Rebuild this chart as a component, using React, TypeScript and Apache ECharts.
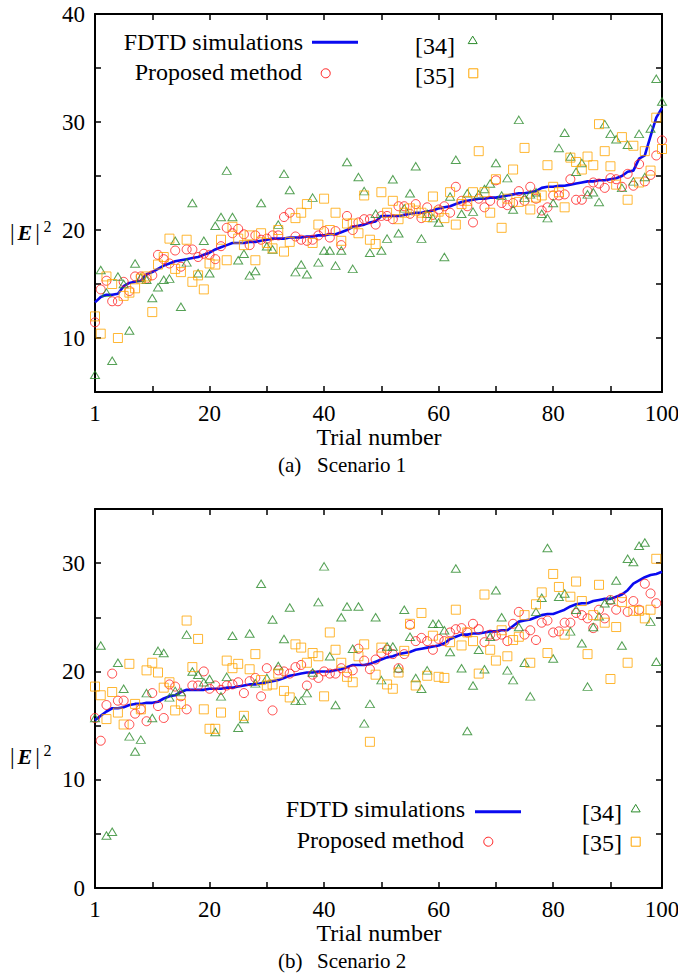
import React, { useEffect, useRef } from "react";
import * as echarts from "echarts";

// ---------- Data (trial index 0..99 maps to trials 1..100) ----------
const xTickLabels: Record<number, string> = { 0: "1", 20: "20", 40: "40", 60: "60", 80: "80", 99: "100" };

// Scenario 1
const s1Fdtd = [
  13.3, 13.8, 14.0, 14.0, 14.1, 14.8, 15.1, 15.2, 15.3, 15.9,
  16.1, 16.4, 16.7, 16.9, 17.1, 17.2, 17.3, 17.4, 17.5, 17.7,
  17.9, 18.2, 18.4, 18.6, 18.8, 18.8, 18.8, 18.9, 18.9, 19.0,
  19.1, 19.2, 19.2, 19.2, 19.3, 19.3, 19.3, 19.4, 19.4, 19.5,
  19.5, 19.6, 19.6, 19.8, 20.0, 20.3, 20.4, 20.5, 20.7, 20.8,
  21.3, 21.3, 21.3, 21.3, 21.4, 21.5, 21.6, 21.6, 21.7, 21.8,
  22.0, 22.1, 22.2, 22.4, 22.6, 22.7, 22.8, 22.9, 22.9, 23.0,
  23.0, 23.1, 23.2, 23.3, 23.4, 23.4, 23.5, 23.6, 23.9, 24.0,
  24.0, 24.1, 24.1, 24.2, 24.3, 24.4, 24.5, 24.5, 24.6, 24.6,
  24.7, 24.8, 25.0, 25.4, 25.5, 26.6, 26.9, 28.7, 30.4, 31.3,
];
const s1Proposed = [
  11.45, 14.5, 15.3, 13.4, 13.4, 15.2, 14.35, 15.7, 15.7, 15.5,
  15.8, 17.7, 17.3, 16.9, 18.1, 16.6, 18.2, 18.2, 17.5, 17.8,
  17.7, 17.3, 18.5, 20.2, 19.7, 20.1, 19.6, 18.6, 19.5, 19.1,
  19.2, 19.5, 19.5, 21.2, 21.6, 19.4, 19.1, 19.0, 19.1, 19.5,
  19.9, 19.3, 19.9, 18.6, 21.3, 20.0, 20.7, 21.0, 21.0, 20.5,
  21.3, 21.3, 21.0, 22.2, 22.2, 21.5, 22.4, 21.1, 22.1, 21.4,
  21.9, 22.2, 21.6, 24.0, 22.7, 22.2, 20.7, 22.9, 22.1, 22.7,
  24.6, 22.5, 22.3, 22.5, 23.6, 22.7, 24.0, 22.9, 21.8, 22.1,
  23.2, 23.2, 23.3, 24.7, 22.8, 22.8, 23.6, 24.4, 24.3, 23.9,
  24.8, 24.7, 24.0, 25.2, 24.1, 26.1, 24.5, 25.1, 26.9, 28.3,
];
const s1Ref34 = [
  6.6, 16.3, 14.2, 7.9, 15.7, 15.0, 10.7, 16.9, 15.6, 15.4,
  13.7, 14.7, 15.4, 15.5, 19.0, 12.9, 17.0, 22.5, 16.0, 19.0,
  16.0, 20.4, 21.2, 25.5, 21.2, 17.2, 17.8, 15.8, 16.2, 22.5,
  18.5, 18.2, 20.5, 25.2, 23.7, 16.1, 16.8, 15.9, 23.0, 17.0,
  18.1, 18.1, 16.7, 18.1, 26.3, 16.4, 24.9, 23.6, 17.9, 21.5,
  18.1, 19.2, 24.7, 19.7, 22.0, 23.4, 25.9, 19.2, 21.5, 21.1,
  20.7, 17.5, 23.1, 26.5, 21.5, 23.4, 21.7, 23.3, 23.8, 24.3,
  26.2, 23.2, 24.8, 21.9, 30.2, 23.0, 23.3, 23.5, 21.5, 21.1,
  22.5, 27.6, 29.0, 26.8, 25.4, 26.2, 23.3, 23.5, 22.6, 29.8,
  28.9, 28.4, 23.9, 27.9, 24.5, 28.9, 24.9, 29.4, 34.0, 31.9,
];
const s1Ref35 = [
  12.0, 10.4, 15.7, 15.0, 10.0, 13.9, 14.2, 14.6, 15.5, 15.7,
  12.4, 16.8, 17.5, 19.2, 16.4, 16.1, 19.1, 15.2, 15.8, 14.5,
  16.9, 16.8, 19.1, 17.2, 20.3, 19.2, 18.6, 19.5, 17.2, 19.7,
  18.8, 18.3, 20.0, 18.0, 18.9, 21.1, 21.6, 22.4, 18.8, 20.5,
  22.9, 20.0, 21.6, 19.0, 20.6, 20.6, 19.7, 23.2, 19.1, 18.7,
  23.5, 21.6, 22.7, 21.0, 21.6, 22.0, 21.8, 21.6, 21.2, 23.1,
  21.7, 21.1, 23.5, 20.5, 22.4, 22.7, 23.5, 27.3, 23.5, 21.6,
  24.7, 20.2, 22.9, 25.6, 22.6, 27.6, 21.9, 23.0, 23.2, 26.0,
  24.0, 23.5, 22.1, 26.7, 26.3, 25.6, 26.8, 26.0, 29.8, 27.3,
  25.9, 24.2, 28.6, 22.8, 27.8, 24.4, 27.3, 25.5, 30.4, 27.5,
];

// Scenario 2
const s2Fdtd = [
  15.5, 15.9, 16.3, 16.6, 16.6, 16.7, 16.9, 17.0, 17.0, 17.1,
  17.1, 17.2, 17.5, 17.7, 17.8, 18.1, 18.3, 18.3, 18.3, 18.3,
  18.4, 18.4, 18.4, 18.5, 18.5, 18.6, 18.7, 18.8, 18.8, 18.9,
  19.0, 19.1, 19.2, 19.4, 19.6, 19.7, 19.8, 19.9, 19.9, 20.0,
  20.0, 20.0, 20.1, 20.2, 20.4, 20.6, 20.6, 20.6, 20.7, 20.9,
  21.1, 21.3, 21.4, 21.6, 21.7, 21.8, 22.0, 22.1, 22.2, 22.3,
  22.4, 22.6, 23.0, 23.2, 23.4, 23.4, 23.5, 23.5, 23.6, 23.7,
  23.7, 23.8, 23.8, 24.2, 24.6, 24.7, 24.8, 25.0, 25.2, 25.3,
  25.3, 25.5, 25.7, 26.0, 26.2, 26.3, 26.3, 26.5, 26.6, 26.7,
  26.7, 26.9, 27.1, 27.5, 28.1, 28.4, 28.7, 28.9, 29.0, 29.2,
];
const s2Proposed = [
  15.7, 13.6, 16.9, 19.8, 17.3, 17.3, 15.1, 16.1, 16.5, 15.4,
  18.0, 16.8, 15.7, 18.8, 18.6, 17.7, 16.5, 18.7, 18.7, 20.0,
  18.4, 18.7, 18.3, 18.7, 18.8, 19.0, 18.0, 19.1, 19.4, 17.7,
  20.3, 16.4, 20.1, 20.0, 19.8, 20.4, 20.6, 18.7, 19.7, 19.4,
  20.0, 19.8, 19.8, 20.3, 19.9, 20.1, 22.1, 21.0, 20.2, 21.1,
  21.7, 22.0, 21.6, 20.3, 21.6, 24.3, 22.8, 23.1, 22.8, 22.0,
  23.0, 22.8, 23.6, 23.9, 24.0, 23.6, 24.4, 23.9, 22.7, 23.4,
  23.3, 23.4, 22.8, 24.4, 25.5, 23.4, 23.8, 22.9, 24.5, 24.7,
  23.6, 23.7, 24.5, 24.5, 25.4, 25.2, 24.9, 24.0, 25.7, 24.9,
  26.6, 25.7, 26.8, 25.5, 26.5, 25.7, 28.1, 27.2, 26.3,
];
const s2Ref34 = [
  15.7, 22.4, 4.85, 5.2, 20.8, 18.4, 14.0, 12.6, 13.7, 18.0,
  15.7, 21.9, 21.7, 17.6, 18.2, 18.1, 23.4, 20.0, 19.7, 19.0,
  19.3, 14.4, 17.7, 19.5, 23.3, 14.8, 15.6, 23.5, 18.9, 28.1,
  19.4, 24.8, 20.5, 23.0, 25.9, 17.3, 17.3, 18.0, 19.9, 26.4,
  29.7, 21.4, 16.9, 25.0, 26.0, 22.1, 26.0, 15.2, 17.0, 25.0,
  19.2, 22.3, 22.3, 20.3, 25.7, 23.2, 19.4, 18.4, 20.1, 24.4,
  24.4, 23.8, 21.8, 29.5, 20.3, 14.5, 18.7, 22.0, 20.2, 23.2,
  27.5, 25.0, 20.1, 19.2, 24.1, 20.8, 17.7, 25.5, 26.8, 31.4,
  21.2, 26.9, 27.2, 23.7, 25.7, 22.6, 18.6, 24.1, 25.1, 26.3,
  26.6, 28.4, 22.4, 30.4, 30.1, 31.6, 31.9, 24.6, 20.9,
];
const s2Ref35 = [
  18.6, 17.8, 15.6, 18.1, 16.2, 15.1, 20.7, 17.0, 16.5, 20.1,
  20.8, 19.9, 18.5, 19.0, 16.4, 17.0, 24.7, 20.4, 23.0, 16.5,
  14.7, 14.7, 16.2, 21.0, 20.3, 20.7, 15.9, 20.2, 21.6, 19.2,
  18.7, 18.8, 19.8, 18.2, 17.6, 22.5, 22.2, 20.8, 21.7, 21.4,
  17.7, 23.6, 22.0, 20.8, 19.5, 19.0, 21.4, 22.5, 13.5, 19.7,
  22.2, 18.8, 18.4, 19.9, 21.9, 24.4, 18.7, 25.4, 19.6, 23.3,
  19.5, 19.4, 22.7, 25.7, 22.4, 23.6, 22.8, 19.8, 27.1, 22.0,
  21.0, 23.8, 21.4, 22.9, 23.2, 25.2, 20.8, 26.2, 27.3, 21.7,
  29.0, 27.8, 23.4, 26.9, 28.3, 26.5, 21.6, 25.2, 28.0, 24.5,
  19.3, 24.1, 26.4, 20.8, 25.6, 25.6, 24.9, 25.7, 30.4,
];

const seriesNames = ["FDTD simulations", "Proposed method", "[34]", "[35]"];
const captions = [["(a)", "Scenario 1"], ["(b)", "Scenario 2"]];
const yRanges = [[5, 40], [0, 35]];

// ---------- Styling ----------
const FONT = '"Liberation Serif", "Times New Roman", Times, serif';
const BLUE = "#0a0af0";
const RED = "#ff1a1a";
const GREEN = "#2a8a2a";
const ORANGE = "#ffa500";

const GRID_LEFT = 95;
const GRID_W = 567;
const GRID_TOPS = [14, 509];
const GRID_H = [378, 379];

function pairs(arr: number[]) {
  return arr.map((v, i) => [i, v]);
}

function App() {
  const ref = useRef<HTMLDivElement>(null);

  useEffect(() => {
    if (!ref.current) return;
    const chart = echarts.init(ref.current, null, { renderer: "svg" });

    const axisLine = { show: true, onZero: false, lineStyle: { color: "#000", width: 2 } };
    const axisTick = { show: true, inside: true, length: 6, lineStyle: { color: "#000", width: 1.5 } };

    const xAxes: any[] = [];
    const yAxes: any[] = [];
    [0, 1].forEach((g) => {
      xAxes.push({
        type: "value", gridIndex: g, min: 0, max: 99, interval: 10, position: "bottom",
        axisLine, axisTick, splitLine: { show: false },
        axisLabel: {
          show: true, margin: 10, color: "#000", fontFamily: FONT, fontSize: 23,
          showMinLabel: true, showMaxLabel: true, hideOverlap: false,
          formatter: (v: number) => xTickLabels[Math.round(v)] ?? "",
        },
      });
      xAxes.push({
        type: "value", gridIndex: g, min: 0, max: 99, interval: 10, position: "top",
        axisLine, axisTick, splitLine: { show: false }, axisLabel: { show: false },
      });
      yAxes.push({
        type: "value", gridIndex: g, min: yRanges[g][0], max: yRanges[g][1], interval: 5, position: "left",
        axisLine, axisTick, splitLine: { show: false },
        axisLabel: {
          show: true, margin: 10, color: "#000", fontFamily: FONT, fontSize: 23,
          showMinLabel: true, showMaxLabel: true,
          formatter: (v: number) => (v % 10 === 0 ? String(v) : ""),
        },
      });
      yAxes.push({
        type: "value", gridIndex: g, min: yRanges[g][0], max: yRanges[g][1], interval: 5, position: "right",
        axisLine, axisTick, splitLine: { show: false }, axisLabel: { show: false },
      });
    });

    const dataSets = [
      [s1Fdtd, s1Proposed, s1Ref34, s1Ref35],
      [s2Fdtd, s2Proposed, s2Ref34, s2Ref35],
    ];
    const series: any[] = [];
    dataSets.forEach((ds, g) => {
      const xi = g * 2;
      const yi = g * 2;
      series.push({
        name: seriesNames[0], type: "line", xAxisIndex: xi, yAxisIndex: yi, data: pairs(ds[0]),
        showSymbol: false, symbol: "none", lineStyle: { color: BLUE, width: 2.6 }, z: 2, silent: true,
      });
      series.push({
        name: seriesNames[1], type: "scatter", xAxisIndex: xi, yAxisIndex: yi, data: pairs(ds[1]),
        symbol: "circle", symbolSize: 9, z: 3, silent: true,
        itemStyle: { color: "rgba(0,0,0,0)", borderColor: RED, borderWidth: 1 },
      });
      series.push({
        name: seriesNames[2], type: "scatter", xAxisIndex: xi, yAxisIndex: yi, data: pairs(ds[2]),
        symbol: "triangle", symbolSize: [9, 7.5], z: 4, silent: true,
        itemStyle: { color: "rgba(0,0,0,0)", borderColor: GREEN, borderWidth: 1 },
      });
      series.push({
        name: seriesNames[3], type: "scatter", xAxisIndex: xi, yAxisIndex: yi, data: pairs(ds[3]),
        symbol: "rect", symbolSize: 9, z: 5, silent: true,
        itemStyle: { color: "rgba(0,0,0,0)", borderColor: ORANGE, borderWidth: 1 },
      });
    });

    const txt = (text: string, x: number, y: number, size: number, align: string, extra: any = {}) => ({
      type: "text", x, y, silent: true,
      style: { text, fill: "#000", font: `${size}px ${FONT}`, textAlign: align, textVerticalAlign: "middle", ...extra },
    });

    const legend = (g: number) => {
      const L = g === 0
        ? { t1x: 303, t1y: 41.5, lx1: 312, lx2: 358, ly: 42.3, t2x: 302, t2y: 72, cx: 325.7, cy: 73.3,
            r1x: 455, r1y: 46, trx: 472.7, try_: 40, r2y: 75.5, sqx: 473.3, sqy: 73.3 }
        : { t1x: 465, t1y: 809, lx1: 475, lx2: 521, ly: 811.7, t2x: 464, t2y: 840, cx: 488.3, cy: 841.7,
            r1x: 622, r1y: 812.5, trx: 635.7, try_: 808.3, r2y: 842.5, sqx: 635.7, sqy: 841.7 };
      return [
        txt(seriesNames[0], L.t1x, L.t1y, 24, "right"),
        { type: "line", silent: true, shape: { x1: L.lx1, y1: L.ly, x2: L.lx2, y2: L.ly }, style: { stroke: BLUE, lineWidth: 3 } },
        txt(seriesNames[1], L.t2x, L.t2y, 24, "right"),
        { type: "circle", silent: true, shape: { cx: L.cx, cy: L.cy, r: 4.5 }, style: { fill: "none", stroke: RED, lineWidth: 1 } },
        txt(seriesNames[2], L.r1x, L.r1y, 24, "right"),
        { type: "polygon", silent: true, shape: { points: [[L.trx - 4.5, L.try_ + 3.6], [L.trx + 4.5, L.try_ + 3.6], [L.trx, L.try_ - 3.9]] }, style: { fill: "none", stroke: GREEN, lineWidth: 1 } },
        txt(seriesNames[3], L.r1x, L.r2y, 24, "right"),
        { type: "rect", silent: true, shape: { x: L.sqx - 4.5, y: L.sqy - 4.5, width: 9, height: 9 }, style: { fill: "none", stroke: ORANGE, lineWidth: 1 } },
      ];
    };

    const yName = (cy: number) => [
      {
        type: "text", x: 10, y: cy, silent: true,
        style: {
          text: "{n||}{e|E}{n||}",
          textVerticalAlign: "middle", textAlign: "left",
          rich: {
            n: { fontFamily: FONT, fontSize: 23, fill: "#000" },
            e: { fontFamily: FONT, fontSize: 22, fontWeight: "bold", fontStyle: "italic", fill: "#000", padding: [0, 3, 0, 3] },
          },
        },
      },
      txt("2", 43.5, cy - 6, 16, "left"),
    ];

    const lowerTexts = (g: number) => {
      const axisY = GRID_TOPS[g] + GRID_H[g];
      return [
        txt("Trial number", 379, axisY + 45, 24, "center"),
        txt(captions[g][0], 278, axisY + 73, 21, "left"),
        txt(captions[g][1], 317, axisY + 73, 21, "left"),
      ];
    };

    const option: any = {
      animation: false,
      backgroundColor: "#fff",
      grid: [0, 1].map((g) => ({
        left: GRID_LEFT, top: GRID_TOPS[g], width: GRID_W, height: GRID_H[g],
        containLabel: false, outerBoundsMode: "none", show: false,
      })),
      xAxis: xAxes,
      yAxis: yAxes,
      series,
      graphic: {
        elements: [
          ...legend(0), ...legend(1),
          ...yName(232), ...yName(756),
          ...lowerTexts(0), ...lowerTexts(1),
        ],
      },
    };

    chart.setOption(option);
    return () => chart.dispose();
  }, []);

  return (
    <div
      ref={ref}
      style={{ position: "absolute", left: 0, top: 0, width: 678, height: 973, background: "#fff" }}
    />
  );
}

export default App;
